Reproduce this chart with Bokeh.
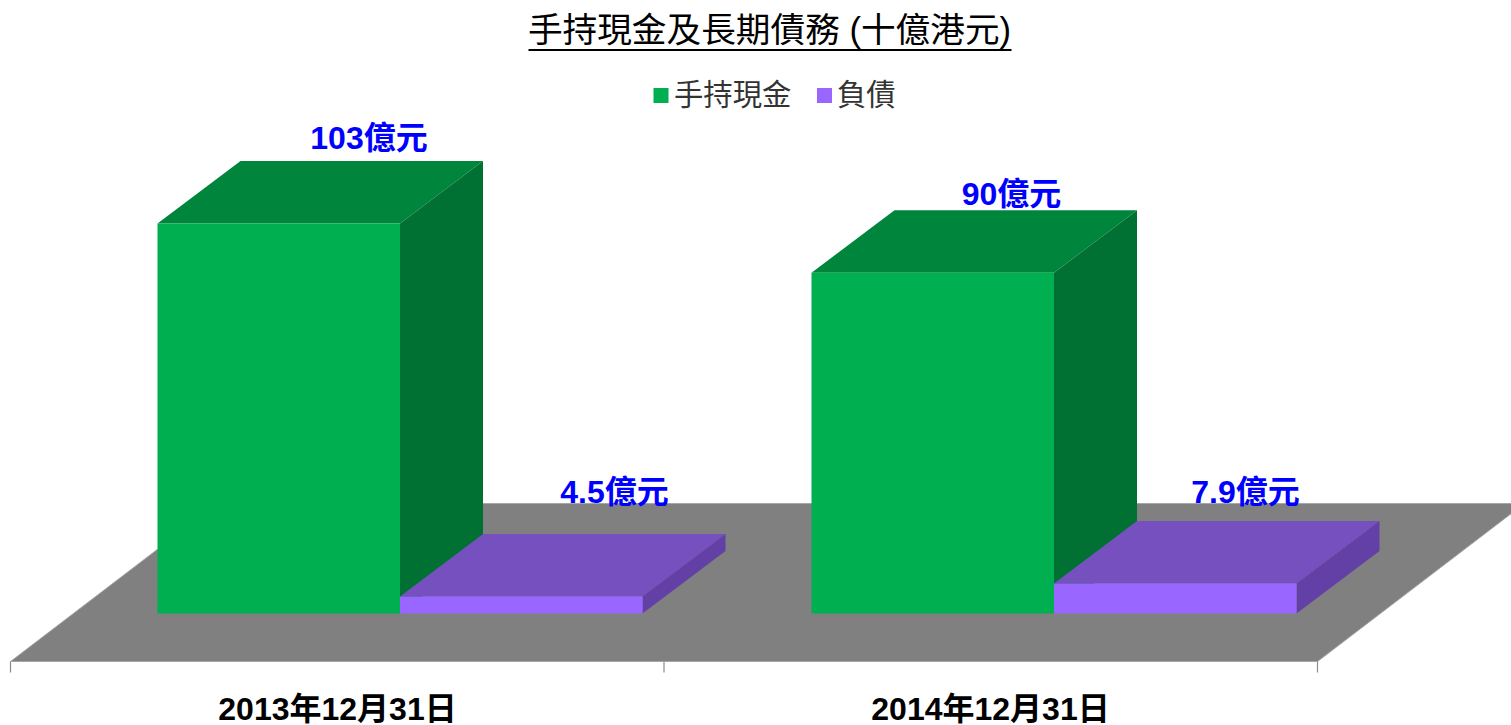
from bokeh.plotting import figure
from bokeh.models import Range1d
from bokeh.core.properties import value
from bokeh.embed import file_html
from bokeh.resources import INLINE

# ---- data ----
categories = ["2013年12月31日", "2014年12月31日"]
series_names = ["手持現金", "負債"]
cash = [103, 90]
debt = [4.5, 7.9]
cash_labels = ["103億元", "90億元"]
debt_labels = ["4.5億元", "7.9億元"]
title_text = "手持現金及長期債務 (十億港元)"

# ---- colours ----
GREEN = ("#00B050", "#00853C", "#007033")   # front, top, side
PURPLE = ("#9966FF", "#7650BF", "#6340A6")
FLOOR = "#808080"
EDGE = "#A6A6A6"
TICK = "#8C8C8C"
BLUE = "#0000FF"

# ---- layout (page pixels) ----
W, H = 1511, 725
PAD = 0
BASE_Y = 613.0       # page y of value 0 on the bars' front plane
PX_PER_UNIT = 3.786  # page px per value unit
TICK0, CAT_W = 10.0, 653.5


def cx(px):
    return (px - TICK0) / CAT_W


def vy(py):
    return (BASE_Y - py) / PX_PER_UNIT


DX = 83 / CAT_W
DY = 62.5 / PX_PER_UNIT
FLOOR_FRONT = vy(661)
FLOOR_BACK = vy(503)
FLOOR_DX = 207 / CAT_W
BAR_W = 242.5 / CAT_W
GROUP_LEFT = cx(157)
TICK_LEN = 11 / PX_PER_UNIT

p = figure(width=W, height=H, output_backend="svg", toolbar_location=None,
           x_range=Range1d(cx(PAD), cx(PAD + W)),
           y_range=Range1d(vy(PAD + H), vy(PAD)),
           min_border=0, outline_line_color=None, background_fill_color="white")
p.axis.visible = False
p.grid.visible = False

# floor
n = len(categories)
p.patch([0, n, n + FLOOR_DX, FLOOR_DX],
        [FLOOR_FRONT, FLOOR_FRONT, FLOOR_BACK, FLOOR_BACK],
        fill_color=FLOOR, line_color=EDGE, line_width=1)
p.segment(x0=list(range(n + 1)), x1=list(range(n + 1)),
          y0=[FLOOR_FRONT] * (n + 1), y1=[FLOOR_FRONT - TICK_LEN] * (n + 1),
          line_color=TICK, line_width=1.2)


def bar3d(x0, val, cols):
    x1 = x0 + BAR_W
    p.patch([x0, x1, x1 + DX, x0 + DX], [val, val, val + DY, val + DY],
            fill_color=cols[1], line_color=None)
    p.patch([x1, x1 + DX, x1 + DX, x1], [0, DY, val + DY, val],
            fill_color=cols[2], line_color=None)
    p.quad(left=x0, right=x1, bottom=0, top=val, fill_color=cols[0], line_color=None)


for i in range(n):
    g = GROUP_LEFT + i * (654 / CAT_W)
    bar3d(g, cash[i], GREEN)
    bar3d(g + BAR_W, debt[i], PURPLE)


def txt(px, py, s, size, color, weight="normal", align="center",
        font="Liberation Sans, Noto Sans CJK TC"):
    p.text(x=[cx(px)], y=[vy(py)], text=[s], text_font=value(font),
           text_font_size=size, text_color=color, text_font_style=weight,
           text_align=align, text_baseline="middle")


# title
txt(769, 29, title_text, "34.67px", "#000000")
p.segment(x0=[cx(528)], x1=[cx(1011)], y0=[vy(49.5)], y1=[vy(49.5)],
          line_color="#000000", line_width=2)

# legend
for sx, col, tx, name in zip([653, 816.5], [GREEN[0], PURPLE[0]], [673.5, 836.5], series_names):
    p.quad(left=cx(sx), right=cx(sx + 15), top=vy(87.5), bottom=vy(102.5),
           fill_color=col, line_color=None)
    txt(tx, 94, name, "29.33px", "#333333", align="left")

# data labels
for px, py, s in zip([368.5, 1011], [137, 193], cash_labels):
    txt(px, py, s, "32px", BLUE, "bold")
for px, py, s in zip([614, 1245], [491, 491], debt_labels):
    txt(px, py, s, "32px", BLUE, "bold")

# category labels
for px, s in zip([337, 990], categories):
    txt(px, 708, s, "32px", "#000000", "bold")

open("out.html", "w").write(file_html(p, INLINE))
